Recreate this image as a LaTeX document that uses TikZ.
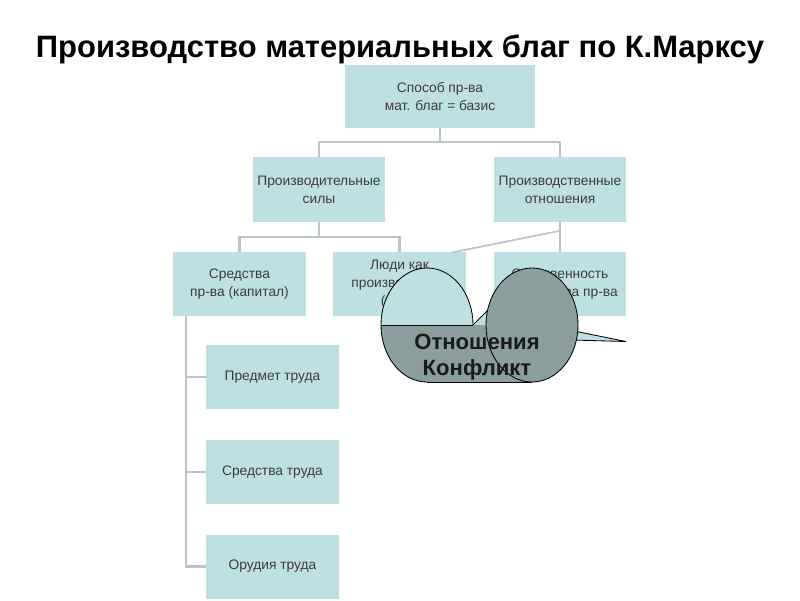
\documentclass[tikz,border=0pt]{standalone}
\usepackage{fontspec}
\setmainfont{Liberation Sans}
\usepackage{xcolor}
\usepackage{tikz}

\definecolor{boxfill}{RGB}{191,224,227}
\definecolor{boxtext}{RGB}{60,60,60}
\definecolor{darkfill}{RGB}{138,158,158}
\definecolor{linkgray}{RGB}{185,197,200}

\begin{document}
\begin{tikzpicture}[x=0.025cm,y=-0.025cm,
    box/.style={rectangle,fill=boxfill,text=boxtext,align=center,inner sep=1pt,
      minimum width=3.3cm,minimum height=1.6cm,font=\fontsize{9.8}{13}\selectfont},
    link/.style={draw=linkgray,line width=2pt},
    outline/.style={draw=black,line width=0.6pt}]
    \useasboundingbox (0,0) rectangle (800,600);
    %
    \node[font=\fontsize{22}{26}\bfseries\selectfont] (title) at (400,49) {Производство материальных благ по К.Марксу};
    %
    \node[box,minimum width=4.75cm,minimum height=1.575cm] (basis) at (440,96.5) {Способ пр-ва\\мат. благ = базис};
    \node[box] (sily) at (319,189.5) {Производительные\\силы};
    \node[box] (otnosh) at (560,189.5) {Производственные\\отношения};

    \node[box] (sredstva) at (239.5,284) {Средства\\пр-ва (капитал)};
    \node[box] (lyudi) at (399.5,284) {Люди как\\производители\\(труд)};
    \node[box] (sobstv) at (560,284) {Собственность\\на средства пр-ва};

    \node[box] (predmet) at (272.5,377) {Предмет труда};
    \node[box] (sredtr) at (272.5,472) {Средства труда};
    \node[box] (orudiya) at (272.5,566.5) {Орудия труда};
    %
    \coordinate (fork1) at (440,142);
    \coordinate (fork2) at (319,237);
    \coordinate (trunk) at (186,316);
    \coordinate (tip) at (559,231);
    \coordinate (tail) at (452,252.5);
    %
    \draw[link] (basis.south) -- (fork1);
    \draw[link] (sily.north) |- (fork1) -| (otnosh.north);
    \draw[link] (sily.south) -- (fork2);
    \draw[link] (sredstva.north) |- (fork2) -| (lyudi.north);
    \draw[link] (otnosh.south) -- (sobstv.north);
    \draw[link] (trunk) |- (orudiya.west);
    \draw[link] (trunk |- predmet.west) -- (predmet.west);
    \draw[link] (trunk |- sredtr.west) -- (sredtr.west);
    \draw[link,line width=1.2pt] (tip) -- (tail);
    %
    \fill[boxfill] (427,325) ellipse[x radius=1.15cm,y radius=1.425cm];
    \fill[boxfill] (473,325) -- (489,309) -- (489,325) -- cycle;
    \draw[outline] (473,325) -- (490,308);
    \fill[darkfill] (427,325) -- (381,325) arc[start angle=180,end angle=270,x radius=1.15cm,y radius=1.425cm]
        -- (532,382) -- (532,325) -- cycle;
    \draw[outline] (427,382) arc[start angle=270,end angle=0,x radius=1.15cm,y radius=1.425cm];
    \draw[outline] (381,325) -- (473,325);
    \draw[outline] (427,382) -- (532,382);
    \filldraw[outline,fill=boxfill] (574,331) -- (626,341.5) -- (572,340) -- cycle;
    \filldraw[outline,fill=darkfill] (532,325) ellipse[x radius=1.15cm,y radius=1.425cm];
    %
    \node[align=center,text={rgb,255:red,26;green,26;blue,26},font=\fontsize{15.7}{18.5}\bfseries\selectfont] (konflikt) at (477,357) {Отношения\\Конфликт};
    %
\end{tikzpicture}
\end{document}
